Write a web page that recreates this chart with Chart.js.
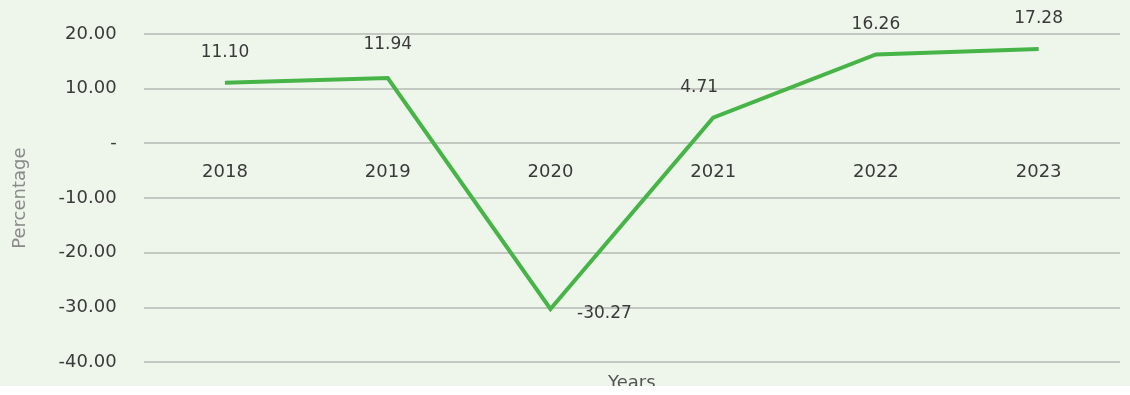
<!DOCTYPE html>
<html>
<head>
<meta charset="utf-8">
<script src="https://cdn.jsdelivr.net/npm/chart.js@4/dist/chart.umd.min.js"></script>
<style>
  html, body { margin: 0; padding: 0; background: #ffffff; }
  #wrap { width: 1130px; height: 386px; overflow: hidden; background: #eef6ec; }
  #growthChart { display: block; }
</style>
</head>
<body>
<div id="wrap"><canvas id="growthChart" width="1130" height="400"></canvas></div>
<script>
const years = ['2018', '2019', '2020', '2021', '2022', '2023'];
const growth = [11.10, 11.94, -30.27, 4.71, 16.26, 17.28];
const pointLabels = ['11.10', '11.94', '-30.27', '4.71', '16.26', '17.28'];
// label offsets relative to the point: [dx, dy]
const labelShift = [[0, -30], [0, -34], [54, 5], [-14, -30], [0, -30], [0, -30]];

const fontFamily = '"DejaVu Sans", sans-serif';

const valueLabels = {
  id: 'valueLabels',
  afterDatasetsDraw(chart) {
    const ctx = chart.ctx;
    const meta = chart.getDatasetMeta(0);
    ctx.save();
    ctx.font = '17px ' + fontFamily;
    ctx.fillStyle = '#3a3a3a';
    ctx.textAlign = 'center';
    ctx.textBaseline = 'middle';
    meta.data.forEach((pt, i) => {
      ctx.fillText(pointLabels[i], pt.x + labelShift[i][0], pt.y + labelShift[i][1]);
    });
    ctx.restore();
  }
};

const ctx = document.getElementById('growthChart').getContext('2d');

new Chart(ctx, {
  type: 'line',
  data: {
    labels: years,
    datasets: [{
      data: growth,
      borderColor: '#46b446',
      borderWidth: 4,
      pointRadius: 0,
      tension: 0,
      xAxisID: 'x'
    }]
  },
  options: {
    responsive: false,
    animation: false,
    layout: { padding: { left: 10, right: 10, top: 34, bottom: 0 } },
    plugins: { legend: { display: false }, tooltip: { enabled: false } },
    scales: {
      x: {
        position: { y: 0 },
        offset: true,
        grid: { display: false },
        border: { display: false },
        ticks: {
          color: '#3a3a3a',
          font: { family: fontFamily, size: 18 },
          padding: 10
        }
      },
      x2: {
        type: 'category',
        labels: years,
        position: 'bottom',
        offset: true,
        grid: { display: false },
        border: { display: false },
        ticks: { display: false },
        title: {
          display: true,
          text: 'Years',
          color: '#555555',
          font: { family: fontFamily, size: 18 },
          padding: { top: 2, bottom: 0 }
        }
      },
      y: {
        min: -40,
        max: 20,
        afterFit: scale => { scale.paddingTop = 0; },
        ticks: {
          stepSize: 10,
          color: '#3a3a3a',
          font: { family: fontFamily, size: 18 },
          padding: 27,
          callback: v => v === 0 ? '-' : v.toFixed(2)
        },
        grid: { color: '#c3c8c2', lineWidth: 2, drawTicks: false },
        border: { display: false },
        title: {
          display: true,
          text: 'Percentage',
          color: '#8a8a8a',
          font: { family: fontFamily, size: 18 },
          padding: { top: 0, bottom: 0 }
        }
      }
    }
  },
  plugins: [valueLabels]
});
</script>
</body>
</html>
